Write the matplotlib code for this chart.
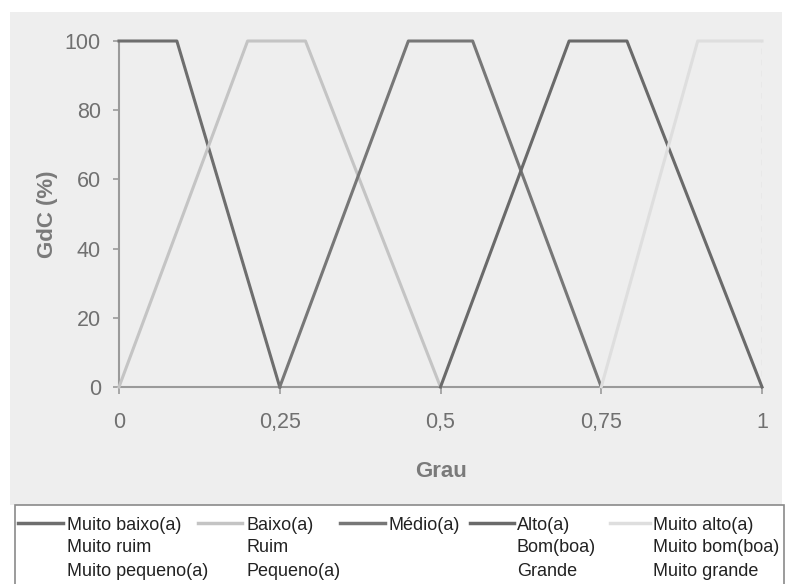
import matplotlib.pyplot as plt
from matplotlib.patches import Rectangle

# Valores (grau x GdC %)
grau = {
    "muito_baixo": [0, 0.09, 0.25],
    "baixo": [0, 0.20, 0.29, 0.50],
    "medio": [0.25, 0.45, 0.55, 0.75],
    "alto": [0.50, 0.70, 0.79, 1.00],
    "muito_alto": [0.75, 0.90, 1.00],
}
gdc = {
    "muito_baixo": [100, 100, 0],
    "baixo": [0, 100, 100, 0],
    "medio": [0, 100, 100, 0],
    "alto": [0, 100, 100, 0],
    "muito_alto": [0, 100, 100],
}
ordem = ["muito_baixo", "baixo", "medio", "alto", "muito_alto"]
cores = ["#6e6e6e", "#c4c4c4", "#777777", "#6a6a6a", "#dedede"]
rotulos = [
    "Muito baixo(a)\nMuito ruim\nMuito pequeno(a)",
    "Baixo(a)\nRuim\nPequeno(a)",
    "Médio(a)",
    "Alto(a)\nBom(boa)\nGrande",
    "Muito alto(a)\nMuito bom(boa)\nMuito grande",
]
xticks = [0, 0.25, 0.5, 0.75, 1]
xticklabels = ["0", "0,25", "0,5", "0,75", "1"]
yticks = [0, 20, 40, 60, 80, 100]

plt.rcParams["font.family"] = ["Liberation Sans", "DejaVu Sans"]
W, H = 786, 584
fig = plt.figure(figsize=(W / 100, H / 100), dpi=100)

# fundo cinza (área do gráfico escaneado)
fundo = fig.add_axes([10 / W, 1 - 505 / H, 772 / W, 493 / H], zorder=-1)
fundo.axis("off")
fundo.add_patch(Rectangle((0, 0), 1, 1, transform=fundo.transAxes,
                          facecolor="#eeeeee", edgecolor="none"))

ax = fig.add_axes([119 / W, 1 - 387 / H, 643 / W, 346 / H], zorder=1)
ax.set_facecolor("none")
for k, c in zip(ordem, cores):
    ax.plot(grau[k], gdc[k], color=c, lw=2.2, clip_on=False, zorder=3)

ax.axvline(1, color="#d0d0d0", lw=1, ls=(0, (4, 4)), zorder=1)
ax.set_xlim(0, 1)
ax.set_ylim(0, 100)
ax.set_xticks(xticks)
ax.set_xticklabels(xticklabels)
ax.set_yticks(yticks)
for s in ["top", "right"]:
    ax.spines[s].set_visible(False)
for s in ["left", "bottom"]:
    ax.spines[s].set_color("#9a9a9a")
    ax.spines[s].set_linewidth(1.5)
ax.tick_params(axis="x", colors="#9a9a9a", length=5, width=1.2, pad=13,
               labelsize=15.5, labelcolor="#707070")
ax.tick_params(axis="y", colors="#9a9a9a", length=4, width=1.2, pad=9,
               labelsize=15.5, labelcolor="#707070")
ax.set_xlabel("Grau", fontsize=16, fontweight="bold", color="#7a7a7a",
              labelpad=20)
ax.set_ylabel("GdC (%)", fontsize=16, fontweight="bold", color="#7a7a7a",
              labelpad=5)

# legenda desenhada à parte
lg = fig.add_axes([0, 0, 1, 1], zorder=5)
lg.set_xlim(0, W)
lg.set_ylim(H, 0)
lg.axis("off")
lg.add_patch(Rectangle((15, 505), 769, 90, facecolor="white",
                       edgecolor="#8a8a8a", lw=1.2))
hx = [(18, 63), (198, 242), (340, 385), (470, 514), (610, 650)]
tx = [67, 247, 388, 517, 653]
for (x0, x1), t, c, lab in zip(hx, tx, cores, rotulos):
    lg.plot([x0, x1], [523, 523], color=c, lw=2.5)
    for i, linha in enumerate(lab.split("\n")):
        lg.text(t, 525 + i * 23, linha, fontsize=13, color="#222222",
                va="center", ha="left")

fig.savefig("out.png", dpi=100, facecolor="white")
